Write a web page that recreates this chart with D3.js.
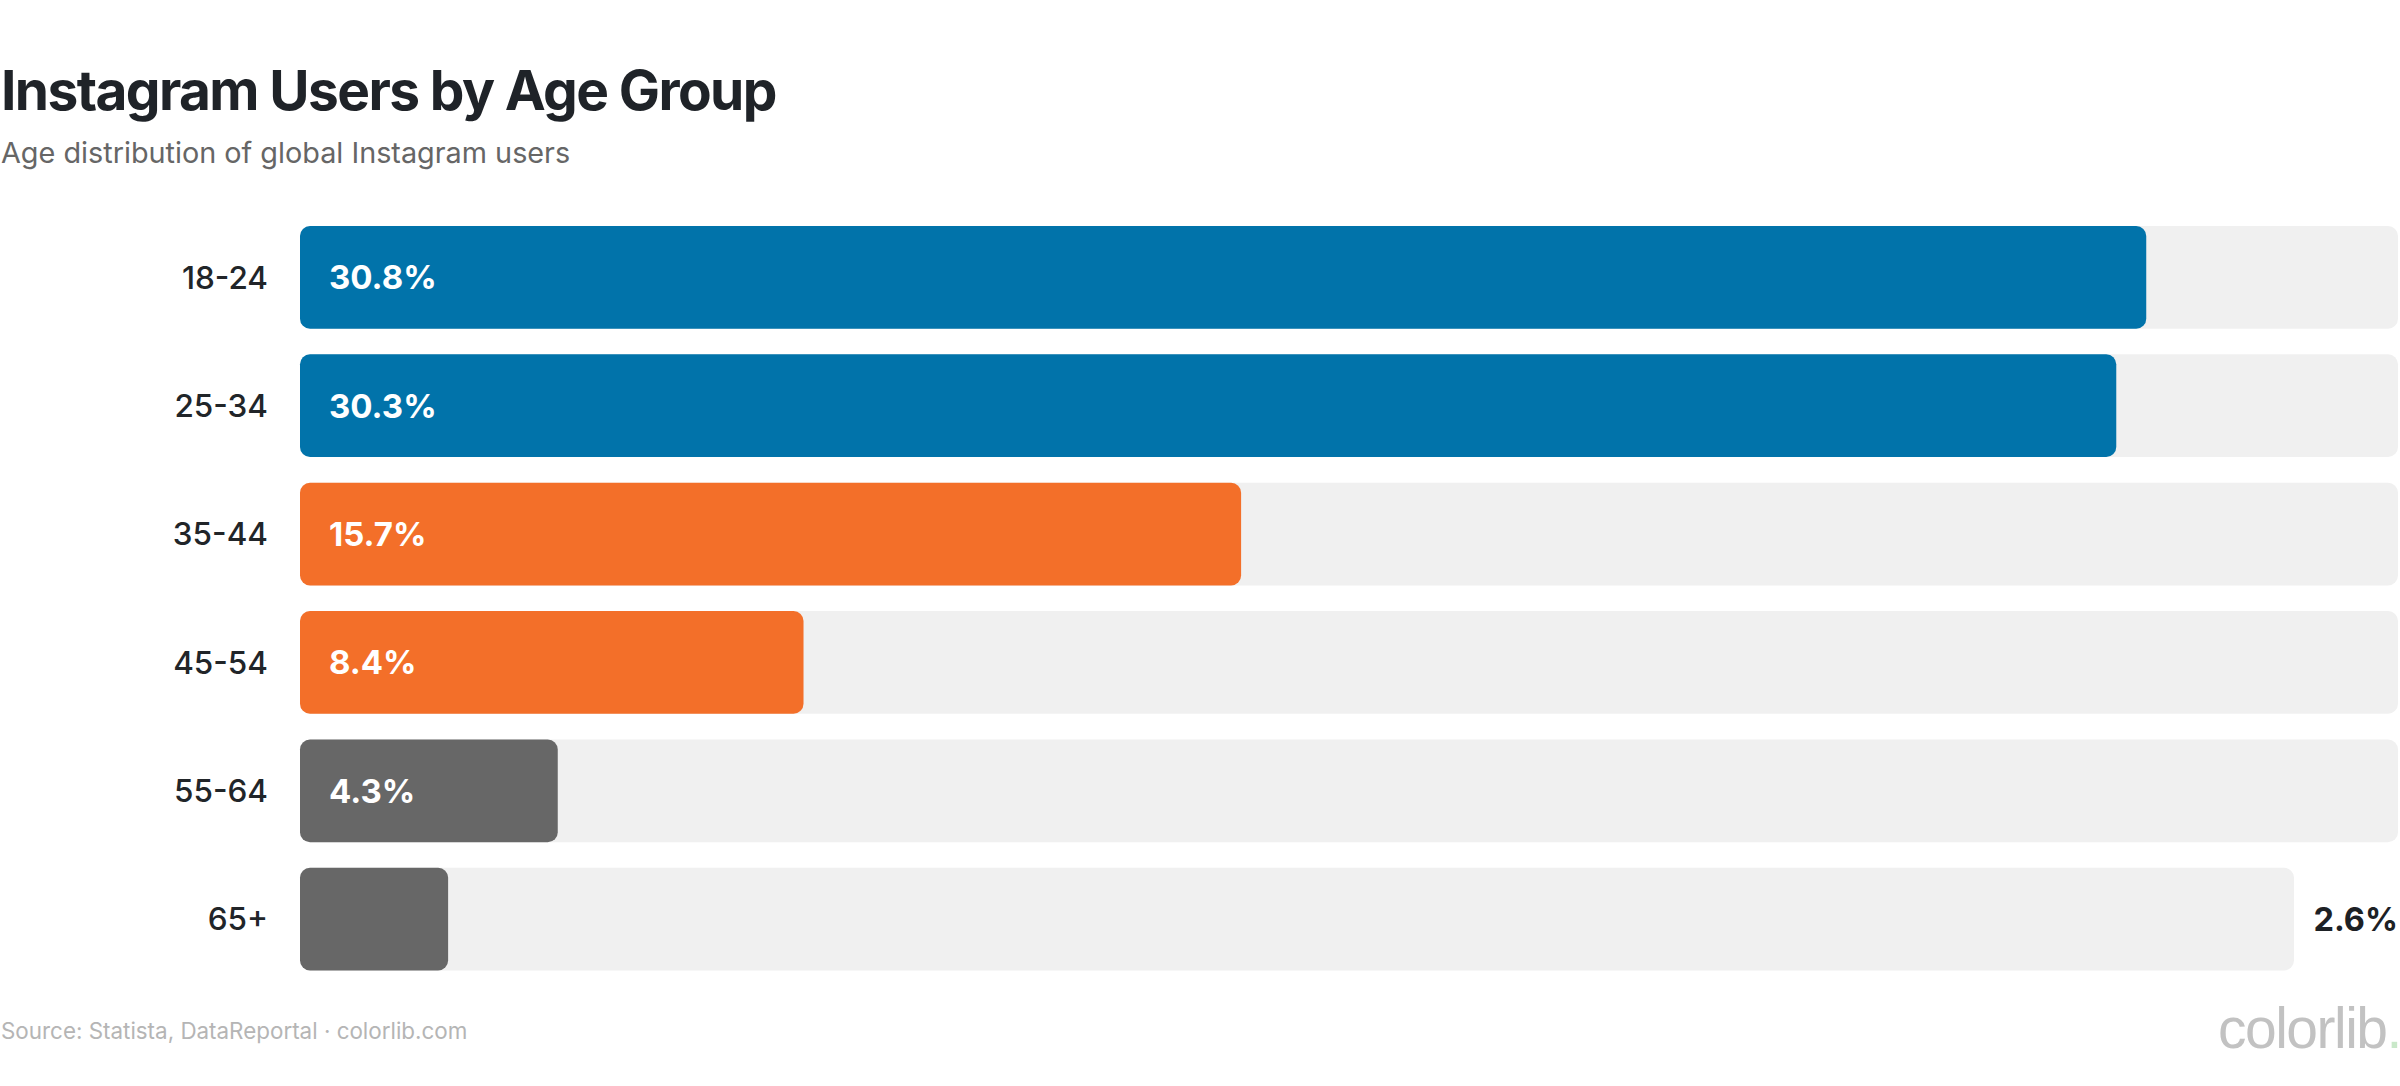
<!DOCTYPE html>
<html lang="en">
<head>
    <meta charset="UTF-8">
    <title>Instagram Users by Age Group</title>
    <script src="https://d3js.org/d3.v7.min.js"></script>
    <style>
        body { margin: 0; background: #fff; }
        svg { display: block; font-family: Inter, "Noto Sans", sans-serif; }
        .row-label { font-size: 31.5px; font-weight: 500; fill: #212529; text-anchor: end; }
        .value-in { font-size: 33px; font-weight: 700; fill: #fff; }
        .value-out { font-size: 32.5px; font-weight: 700; fill: #1d2125; text-anchor: end; }
    </style>
</head>
<body>
    <svg width="2400" height="1086"></svg>
    <script>
        const width = 2400;
        const height = 1086;

        // Data
        const ageGroups = ["18-24", "25-34", "35-44", "45-54", "55-64", "65+"];
        const shares = [30.8, 30.3, 15.7, 8.4, 4.3, 2.6];
        const xMax = 35;

        const palette = ["#0173aa", "#0173aa", "#f36f29", "#f36f29", "#676767", "#676767"];

        const left = 300;          // where bars start
        const right = 2398;        // end of the track
        const outsideGap = 104;    // track shrinks when label sits outside
        const minInside = 170;     // bar too short -> label goes outside
        const radius = 10;

        const svg = d3.select("svg");

        // Title + subtitle
        svg.append("text")
            .attr("x", 1).attr("y", 110)
            .attr("font-size", 55).attr("font-weight", 700)
            .attr("letter-spacing", -1.6)
            .attr("fill", "#1f2328")
            .text("Instagram Users by Age Group");

        svg.append("text")
            .attr("x", 1).attr("y", 163)
            .attr("font-size", 28.8)
            .attr("fill", "#666")
            .text("Age distribution of global Instagram users");

        const y = d3.scaleBand()
            .domain(ageGroups)
            .range([226, 970.5])
            .paddingInner(0.2)
            .paddingOuter(0);

        const x = d3.scaleLinear().domain([0, xMax]).range([left, right]);

        const rows = ageGroups.map((g, i) => {
            const outside = x(shares[i]) - left < minInside;
            const xs = outside ? x.copy().range([left, right - outsideGap]) : x;
            return {group: g, value: shares[i], color: palette[i], outside, xs};
        });

        const row = svg.selectAll(".row")
            .data(rows)
            .enter().append("g")
            .attr("class", "row")
            .attr("transform", d => `translate(0,${y(d.group)})`);

        // background track
        row.append("rect")
            .attr("x", left)
            .attr("width", d => d.xs.range()[1] - left)
            .attr("height", y.bandwidth())
            .attr("rx", radius)
            .attr("fill", "#f0f0f0");

        // value bar
        row.append("rect")
            .attr("x", left)
            .attr("width", d => d.xs(d.value) - left)
            .attr("height", y.bandwidth())
            .attr("rx", radius)
            .attr("fill", d => d.color);

        row.append("text")
            .attr("class", "row-label")
            .attr("x", 268)
            .attr("y", y.bandwidth() / 2)
            .attr("dy", "0.36em")
            .text(d => d.group);

        row.append("text")
            .attr("class", d => d.outside ? "value-out" : "value-in")
            .attr("x", d => d.outside ? right : left + 29)
            .attr("y", y.bandwidth() / 2)
            .attr("dy", "0.36em")
            .text(d => d.value.toFixed(1) + "%");

        // Footer
        svg.append("text")
            .attr("x", 1).attr("y", 1039)
            .attr("font-size", 22.4)
            .attr("fill", "#b5b5b5")
            .text("Source: Statista, DataReportal \u00b7 colorlib.com");

        const logo = svg.append("text")
            .attr("x", 2218).attr("y", 1048)
            .attr("font-family", "'Liberation Sans', Arial, sans-serif")
            .attr("font-size", 57)
            .attr("letter-spacing", -1.5)
            .attr("fill", "#c2c2c2");
        logo.append("tspan").text("colorlib");
        logo.append("tspan").attr("fill", "#c9e8c9").text(".");
    </script>
</body>
</html>
